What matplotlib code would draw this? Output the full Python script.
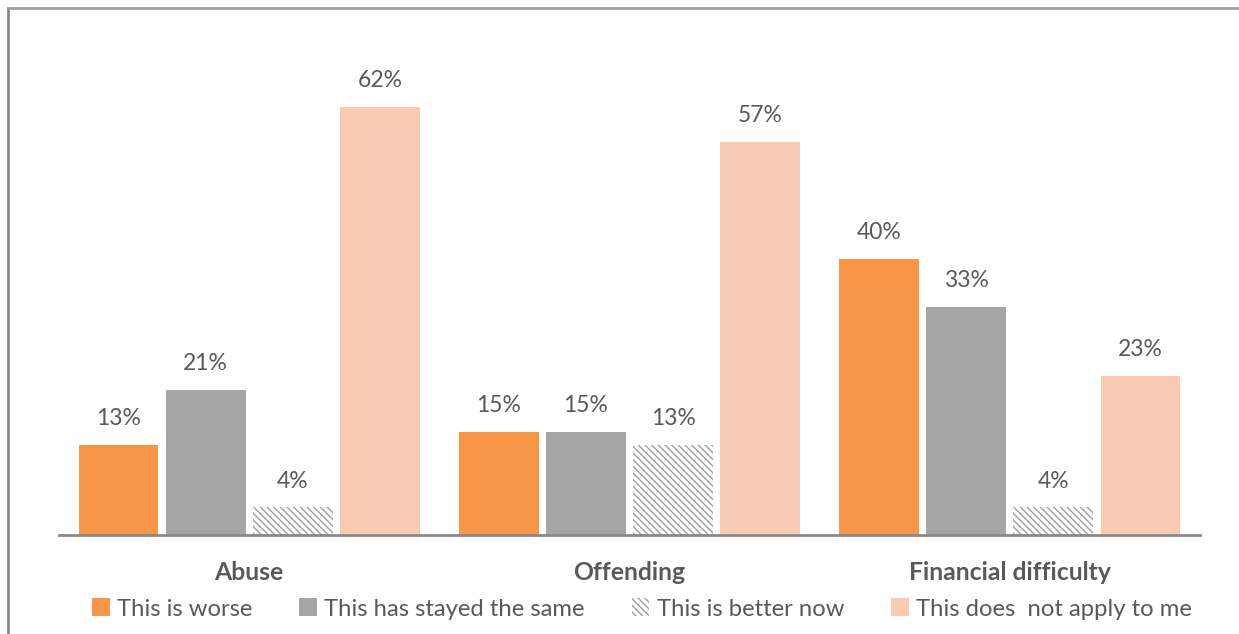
import matplotlib
matplotlib.use("Agg")
import matplotlib.pyplot as plt
import numpy as np
from matplotlib.patches import Patch
from matplotlib.lines import Line2D

categories = ["Abuse", "Offending", "Financial difficulty"]
series_names = ["This is worse", "This has stayed the same", "This is better now", "This does  not apply to me"]
worse = [13, 15, 40]
same = [21, 15, 33]
better = [4, 13, 4]
not_apply = [62, 57, 23]

colors = ["#F79646", "#A5A5A5", "white", "#F9CBB3"]
hatches = [None, None, "\\\\\\\\\\", None]
text_col = "#595959"
plt.rcParams['font.family'] = ['Lato', 'DejaVu Sans']
plt.rcParams['hatch.color'] = '#A5A5A5'
plt.rcParams['hatch.linewidth'] = 1.1

fig = plt.figure(figsize=(12.39, 6.34), dpi=100)
ax = fig.add_axes([59/1239, (634-535)/634, (1200-59)/1239, 483/634])

x = np.arange(len(categories))
pitch = 0.229
width = 0.21
all_series = [worse, same, better, not_apply]
for i, vals in enumerate(all_series):
    off = (i - 1.5) * pitch
    if hatches[i]:
        bars = ax.bar(x + off, vals, width, color='white', edgecolor='#A5A5A5', hatch=hatches[i], linewidth=0)
    else:
        bars = ax.bar(x + off, vals, width, color=colors[i], linewidth=0)
    for b, v in zip(bars, vals):
        ax.text(b.get_x() + b.get_width()/2, v + 2.3, f"{v}%", ha='center', va='bottom',
                fontsize=16.5, color=text_col)

ax.set_xlim(-0.5, 2.5)
ax.set_ylim(0, 70)
for s in ['top', 'right', 'left']:
    ax.spines[s].set_visible(False)
ax.spines['bottom'].set_color('#898989')
ax.spines['bottom'].set_linewidth(2)
ax.set_yticks([])
ax.set_xticks(x)
ax.set_xticklabels(categories, fontsize=17.8, fontweight='bold', color=text_col)
ax.tick_params(axis='x', length=0, pad=19)

# frame
fig.add_artist(Line2D([8/1239, 8/1239], [0, 1 - 8/634], color='#898989', lw=2, transform=fig.transFigure))
fig.add_artist(Line2D([8/1239, 1], [1 - 8/634, 1 - 8/634], color='#A0A0A0', lw=2, transform=fig.transFigure))

handles = []
for i, n in enumerate(series_names):
    if hatches[i]:
        handles.append(Patch(facecolor='white', edgecolor='#A5A5A5', hatch=hatches[i], linewidth=0, label=n))
    else:
        handles.append(Patch(facecolor=colors[i], linewidth=0, label=n))
leg = fig.legend(handles=handles, loc='center', bbox_to_anchor=(642/1239, 1 - 609/634), ncol=4,
                 frameon=False, fontsize=17.2, handlelength=0.75, handleheight=0.75, handletextpad=0.3,
                 columnspacing=1.95, labelcolor=text_col)

fig.savefig("out.png", dpi=100)
